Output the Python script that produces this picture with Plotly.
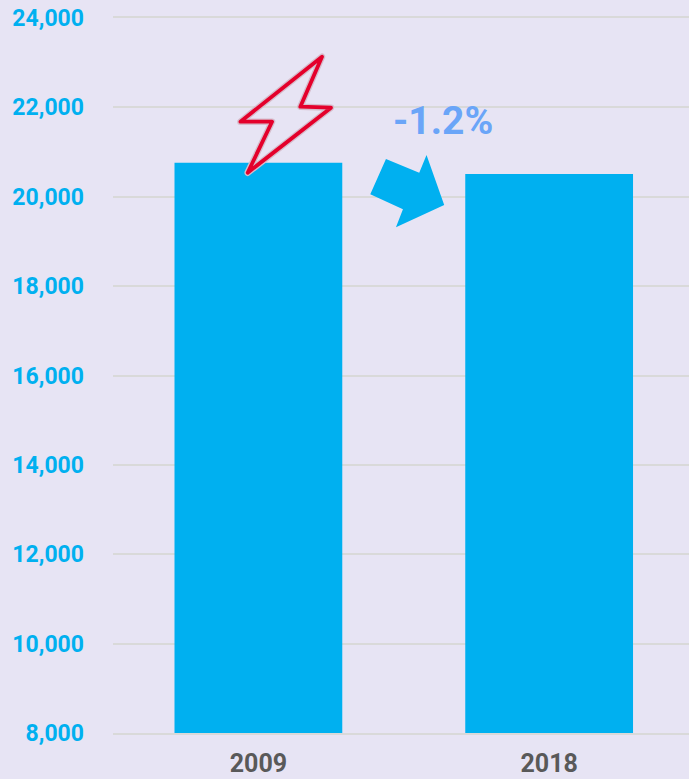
import plotly.graph_objects as go

years = ["2009", "2018"]
values = [20760, 20510]
y_ticks = list(range(8000, 24001, 2000))
change_label = "-1.2%"

W, H = 689, 779
BG = "#E7E4F4"
BLUE = "#00B0F0"
GRID = "#D9D9D9"
FONT = "Roboto, Arial, sans-serif"

# Plot area edges in page pixels
L, R, T, B = 112.5, W, 18, 733

# Decorative callouts, positioned in page pixels
bolt_px = [(321.7, 56.7), (300, 106.7), (330.7, 107.7), (247.3, 172.7), (271.7, 121.7), (240, 121.7)]
arrow_px = [(385.7, 159), (419, 172.7), (426.3, 155), (444, 205), (395.7, 227.3), (402.7, 209.3), (370, 194.3)]


def to_paper(points):
    parts = [f"{(x - L) / (R - L):.5f},{(B - y) / (B - T):.5f}" for x, y in points]
    return "M " + " L ".join(parts) + " Z"


fig = go.Figure(go.Bar(x=years, y=values, width=0.577, marker=dict(color=BLUE, line=dict(width=0)), hoverinfo="skip"))

fig.update_layout(
    width=W,
    height=H,
    margin=dict(l=L, r=W - R, t=T, b=H - B, autoexpand=False),
    paper_bgcolor=BG,
    plot_bgcolor=BG,
    showlegend=False,
    font=dict(family=FONT),
)

fig.add_shape(type="path", xref="paper", yref="paper", path=to_paper(arrow_px),
              fillcolor=BLUE, line=dict(width=0), layer="above")
fig.add_shape(type="path", xref="paper", yref="paper", path=to_paper(bolt_px),
              fillcolor="rgba(0,0,0,0)", line=dict(color="#D6BCCB", width=6.5), layer="above")
fig.add_shape(type="path", xref="paper", yref="paper", path=to_paper(bolt_px),
              fillcolor="rgba(0,0,0,0)", line=dict(color="#E4002B", width=3.8), layer="above")

fig.add_annotation(xref="paper", yref="paper", x=(442.5 - L) / (R - L), y=(B - 121) / (B - T),
                   text=f"<b>{change_label}</b>", showarrow=False, xanchor="center", yanchor="middle",
                   font=dict(size=39, color="#6AA5F8", family=FONT))

fig.update_xaxes(
    type="category",
    range=[-0.5, 1.481],
    automargin=False,
    showgrid=False,
    showline=True,
    linecolor=GRID,
    linewidth=2,
    mirror=True,
    ticks="",
    ticklabelstandoff=7,
    tickfont=dict(size=25, color="#595959", family=FONT, weight="bold"),
)
fig.update_yaxes(
    range=[8000, 24000],
    tickvals=y_ticks,
    tickformat=",d",
    automargin=False,
    showgrid=True,
    gridcolor=GRID,
    gridwidth=2,
    zeroline=False,
    showline=False,
    ticks="",
    ticklabelstandoff=28,
    tickfont=dict(size=23, color=BLUE, family=FONT, weight="bold"),
)

fig.write_html(
    "out.html",
    config={"displayModeBar": False},
    post_script=(
        "document.body.style.margin='0';document.body.style.background='#E7E4F4';"
        "document.querySelectorAll('.shapelayer path').forEach(function(p){p.style.strokeLinejoin='round';});"
    ),
)
